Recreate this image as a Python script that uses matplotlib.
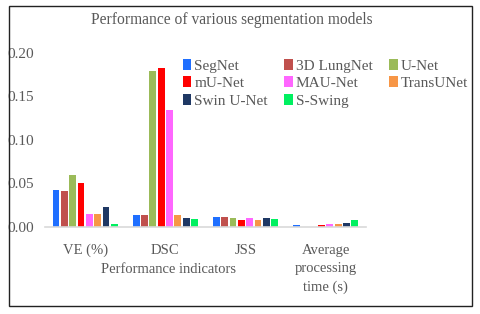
import numpy as np
import matplotlib.pyplot as plt
from matplotlib.patches import Rectangle

categories = ['VE (%)', 'DSC', 'JSS', 'Average\nprocessing\ntime (s)']
models = ['SegNet', '3D LungNet', 'U-Net', 'mU-Net', 'MAU-Net',
          'TransUNet', 'Swin U-Net', 'S-Swing']
colors = ['#1F6FFF', '#C0504D', '#9BBB59', '#FF0000', '#FF66FF',
          '#F79646', '#1F3864', '#00F060']

segnet = [0.042, 0.0142, 0.0119, 0.0023]
lungnet = [0.041, 0.0140, 0.0119, 0.0]
unet = [0.060, 0.179, 0.0107, 0.0]
munet = [0.050, 0.183, 0.0084, 0.0023]
maunet = [0.0153, 0.134, 0.0107, 0.0034]
transunet = [0.0153, 0.0140, 0.0084, 0.0034]
swinunet = [0.0233, 0.0107, 0.0107, 0.0046]
sswing = [0.003, 0.0096, 0.0096, 0.0084]
series = [segnet, lungnet, unet, munet, maunet, transunet, swinunet, sswing]

plt.rcParams['font.family'] = ['Liberation Serif', 'DejaVu Serif']
grey = '#595959'

fig = plt.figure(figsize=(4.8, 3.14), dpi=100)
ax = fig.add_axes([0.094, 0.277, 0.668, 0.555])

x = np.arange(len(categories))
w = 0.104
bars = []
for i, (name, vals, c) in enumerate(zip(models, series, colors)):
    bars.append(ax.bar(x + (i - 3.5) * w, vals, w * 0.82, color=c, label=name))

ax.set_xlim(-0.5, 3.5)
ax.set_ylim(0, 0.20)
ax.set_yticks([0, 0.05, 0.10, 0.15, 0.20])
ax.set_yticklabels(['0.00', '0.05', '0.10', '0.15', '0.20'])
ax.set_xticks(x)
ax.set_xticklabels(categories, va='top', linespacing=1.55)
ax.tick_params(axis='y', length=0, labelsize=11, colors=grey, pad=8)
ax.tick_params(axis='x', length=0, labelsize=10.5, colors=grey, pad=12)
for s in ['top', 'right', 'left']:
    ax.spines[s].set_visible(False)
ax.spines['bottom'].set_color('#D9D9D9')
ax.spines['bottom'].set_linewidth(1.2)

fig.text(0.352, 0.143, 'Performance indicators', ha='center', va='center',
         fontsize=10.5, color=grey)

# legend laid out row by row
order = [0, 3, 6, 1, 4, 7, 2, 5]
ax.legend([bars[i] for i in order], [models[i] for i in order],
          loc='upper left', bbox_to_anchor=(0.41, 1.0), ncol=3, frameon=False,
          fontsize=11, handlelength=0.55, handleheight=0.7, handletextpad=0.2,
          columnspacing=1.1, labelspacing=0.25, labelcolor=grey, borderaxespad=0)

fig.text(0.483, 0.935, 'Performance of various segmentation models',
         ha='center', va='center', fontsize=11.2, color=grey)

fig.patches.append(Rectangle((0.019, 0.026), 0.964, 0.955, transform=fig.transFigure,
                             fill=False, edgecolor='#222222', linewidth=1.0))

fig.savefig('out.png', dpi=100)
